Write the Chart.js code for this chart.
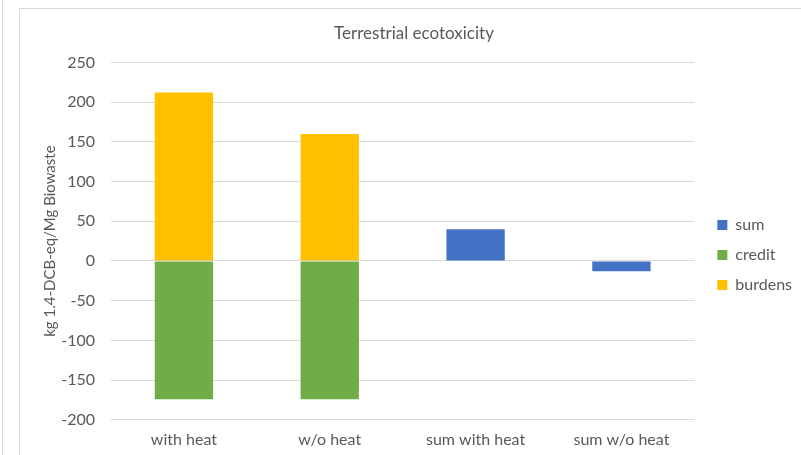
<!DOCTYPE html>
<html>
<head>
<meta charset="utf-8">
<script src="https://cdn.jsdelivr.net/npm/chart.js@4/dist/chart.umd.min.js"></script>
<style>
  body { margin: 0; background: #fff; }
  #wrap { position: relative; width: 801px; height: 455px; overflow: hidden; }
  #outer { position: absolute; left: 2px; top: 0; width: 1px; height: 455px; background: #d9d9d9; }
  #frame { position: absolute; left: 19px; top: 8px; width: 800px; height: 460px;
           border-left: 1px solid #d9d9d9; border-top: 1px solid #d9d9d9; }
  canvas { position: absolute; left: 0; top: 0; }
</style>
</head>
<body>
<div id="wrap">
  <div id="outer"></div>
  <div id="frame"></div>
  <canvas id="chart" width="801" height="455"></canvas>
</div>
<script>
const categories = ['with heat', 'w/o heat', 'sum with heat', 'sum w/o heat'];
const sumValues = [null, null, 40, -13];
const creditValues = [-174, -174, null, null];
const burdenValues = [212, 160, null, null];
const yTicks = [-200, -150, -100, -50, 0, 50, 100, 150, 200, 250];

const textColor = '#595959';
const fontFamily = 'Lato, "Open Sans", sans-serif';

// nudge the legend a bit to the right of the plot, like Excel does
const legendShift = {
    id: 'legendShift',
    afterLayout(chart) {
        chart.legend.left += 9;
        chart.legend.right += 9;
    }
};

new Chart(document.getElementById('chart'), {
    type: 'bar',
    data: {
        labels: categories,
        datasets: [
            { label: 'sum', data: sumValues, backgroundColor: '#4472C4' },
            { label: 'credit', data: creditValues, backgroundColor: '#70AD47' },
            { label: 'burdens', data: burdenValues, backgroundColor: '#FFC000' }
        ]
    },
    plugins: [legendShift],
    options: {
        responsive: false,
        animation: false,
        categoryPercentage: 1,
        barPercentage: 0.4,
        layout: { padding: { left: 35, top: 14, right: 8, bottom: -4 } },
        plugins: {
            title: {
                display: true,
                text: 'Terrestrial ecotoxicity',
                color: textColor,
                font: { family: fontFamily, size: 17, weight: 'normal' },
                padding: { top: 9, bottom: 19 }
            },
            legend: {
                position: 'right',
                title: { display: true, text: ' ', font: { size: 1 }, padding: 18 },
                labels: {
                    color: textColor,
                    font: { family: fontFamily, size: 16 },
                    boxWidth: 10,
                    boxHeight: 10,
                    padding: 14
                }
            },
            tooltip: { enabled: false }
        },
        scales: {
            x: {
                stacked: true,
                grid: { display: false, drawTicks: false },
                border: { display: false },
                ticks: { color: textColor, font: { family: fontFamily, size: 16 }, padding: 10, maxRotation: 0 }
            },
            y: {
                stacked: true,
                min: -200,
                max: 250,
                afterBuildTicks: (scale) => { scale.ticks = yTicks.map(v => ({ value: v })); },
                afterFit: (scale) => { scale.width = 76; },
                grid: { color: '#d9d9d9', drawTicks: false },
                border: { display: false },
                ticks: { color: textColor, font: { family: fontFamily, size: 16 }, padding: 16 },
                title: {
                    display: true,
                    text: 'kg 1.4-DCB-eq/Mg Biowaste',
                    color: textColor,
                    font: { family: fontFamily, size: 15 },
                    padding: { top: 6, bottom: 0 }
                }
            }
        }
    }
});
</script>
</body>
</html>
